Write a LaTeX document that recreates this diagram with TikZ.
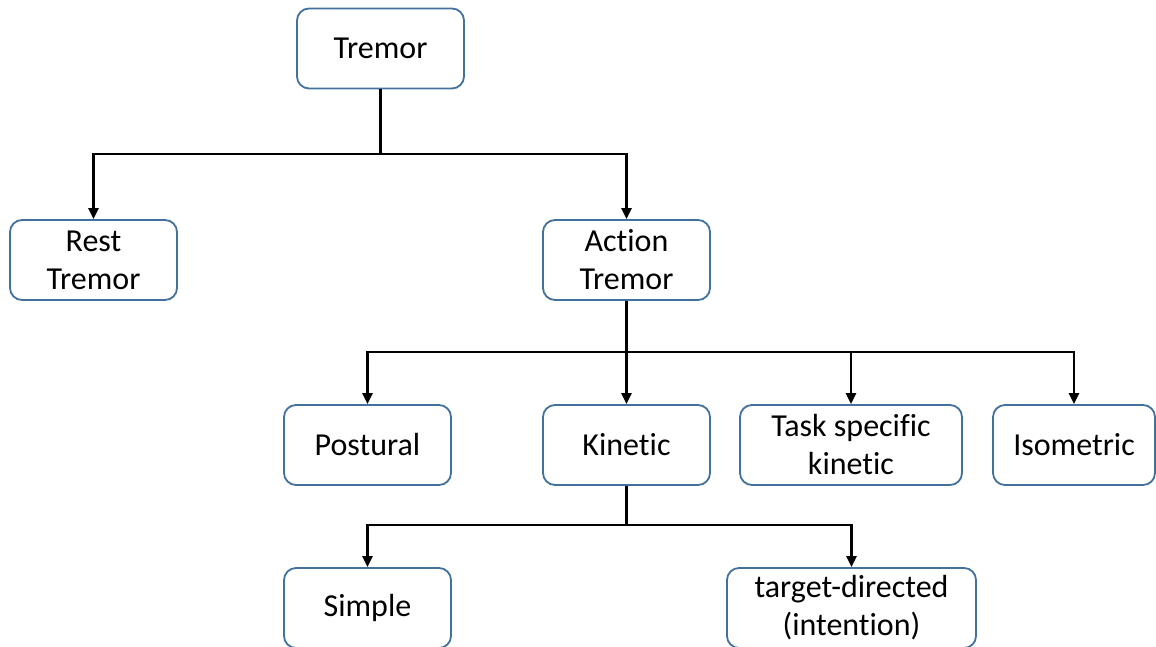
\documentclass[tikz,border=0pt]{standalone}
\usepackage{fontspec}
\setmainfont{Carlito}[Ligatures=NoCommon]
\usetikzlibrary{arrows.meta}
\definecolor{boxline}{HTML}{41719C}
\tikzset{
  box/.style={draw=boxline, line width=1.8pt, rounded corners=12pt, fill=white,
    minimum height=80pt, align=center, inner sep=2pt,
    font=\fontsize{32}{38}\selectfont},
  wire/.style={line width=2.4pt},
  link/.style={wire, -{Triangle[length=11pt,width=10pt]}},
}
\begin{document}
\begin{tikzpicture}[x=1pt,y=-1pt]
\useasboundingbox (0,0) rectangle (1156,647);
\clip (0,0) rectangle (1156,647);
% level 0
\node[box, minimum width=167pt] (tremor) at (380.5,48.5) {Tremor};
% level 1
\node[box, minimum width=167pt] (rest) at (93.5,260) {Rest\\Tremor};
\node[box, minimum width=167pt] (action) at (626.5,260) {Action\\Tremor};
% level 2
\node[box, minimum width=167pt] (postural) at (367.5,445) {Postural};
\node[box, minimum width=167pt] (kinetic) at (626.5,445) {Kinetic};
\node[box, minimum width=222pt] (task) at (851,445) {Task specific\\kinetic};
\node[box, minimum width=162pt] (iso) at (1074,445) {Isometric};
% level 3
\node[box, minimum width=167pt] (simple) at (367.5,608) {Simple};
\node[box, minimum width=249pt] (target) at (851.5,608) {target-directed\\(intention)};
% junction points
\coordinate (j0) at (380.5,154);
\coordinate (j1) at (626.5,352);
\coordinate (j2) at (626.5,525);
% connectors
\draw[wire] (tremor.south) -- (j0);
\draw[link] (j0) -| (rest.north);
\draw[link] (j0) -| (action.north);
\draw[wire] (action.south) -- (j1);
\draw[link] (j1) -| (postural.north);
\draw[link] (j1) -- (kinetic.north);
\draw[link] (j1) -| (task.north);
\draw[link] (j1) -| (iso.north);
\draw[wire] (kinetic.south) -- (j2);
\draw[link] (j2) -| (simple.north);
\draw[link] (j2) -| (target.north);
\end{tikzpicture}
\end{document}
